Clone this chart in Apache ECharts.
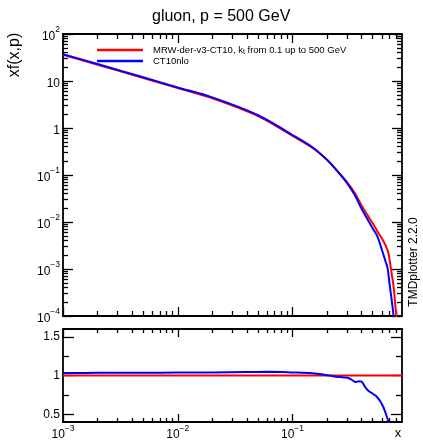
<!DOCTYPE html>
<html>
<head>
<meta charset="utf-8">
<script src="https://cdn.jsdelivr.net/npm/echarts@6/dist/echarts.min.js"></script>
<style>
html, body { margin: 0; background: #fff; }
#main { width: 423px; height: 441px; }
</style>
</head>
<body>
<div id="main"></div>
<script>
// upper panel: xf(x,p) for both sets
var xMrw = [0.001, 0.002, 0.005, 0.01, 0.02, 0.05, 0.1, 0.15, 0.2, 0.25, 0.3, 0.35, 0.4, 0.45, 0.5, 0.55, 0.6, 0.65, 0.685, 0.72, 0.76, 0.8, 0.85];
var fMrw = [36, 22.2, 11.6, 7.05, 4.3, 1.8, 0.68, 0.375, 0.21, 0.117, 0.07, 0.041, 0.0225, 0.014, 0.0094, 0.0063, 0.0045, 0.0031, 0.0022, 0.00103, 0.00042, 0.000115, 0.00004];
var xCt = [0.001, 0.002, 0.005, 0.01, 0.02, 0.05, 0.1, 0.15, 0.2, 0.25, 0.3, 0.35, 0.4, 0.45, 0.5, 0.55, 0.6, 0.65, 0.675, 0.7, 0.73, 0.76, 0.78];
var fCt = [37.2, 23, 12.0, 7.3, 4.48, 1.88, 0.71, 0.385, 0.21, 0.115, 0.066, 0.037, 0.019, 0.0115, 0.0073, 0.0049, 0.0026, 0.0014, 0.00103, 0.0005, 0.00023, 0.0001, 0.00005];

// lower panel: ratio to MRW
var xRatioCt = [0.001, 0.002, 0.005, 0.01, 0.02, 0.04, 0.06, 0.08, 0.1, 0.12, 0.15, 0.17, 0.19, 0.21, 0.24, 0.28, 0.31, 0.34, 0.36, 0.38, 0.4, 0.43, 0.46, 0.5, 0.54, 0.58, 0.62, 0.65, 0.68, 0.7];
var rCt = [1.033, 1.034, 1.036, 1.038, 1.04, 1.045, 1.047, 1.046, 1.04, 1.037, 1.03, 1.02, 1.01, 1.0, 0.985, 0.975, 0.965, 0.93, 0.915, 0.925, 0.92, 0.85, 0.8, 0.765, 0.73, 0.67, 0.59, 0.51, 0.42, 0.35];
var xRatioMrw = [0.001, 0.9];
var rMrw = [1, 1];

// ticks
var xDecades = [0.001, 0.01, 0.1];
var yDecades = [1e-4, 1e-3, 1e-2, 1e-1, 1, 10, 100];
var ratioTicks = [0.5, 1, 1.5];
var ratioMinor = [0.75, 1.25];

var nameMrw = 'MRW-der-v3-CT10, kt from 0.1 up to 500 GeV';
var nameCt = 'CT10nlo';

var FONT = 'Liberation Sans, Arial, Helvetica, sans-serif';

function minorsOf(decades, last) {
    var out = [];
    decades.forEach(function (d) {
        for (var k = 2; k <= 9; k++) {
            var v = +(d * k).toPrecision(3);
            if (v < last) out.push(v);
        }
    });
    return out;
}
var xMinor = minorsOf(xDecades, 0.9);
var yMinor = minorsOf(yDecades.slice(0, -1), 100);

function pow10(v) {
    var n = Math.round(Math.log10(v));
    if (n === 0) return '{b|1}';
    if (n === 1) return '{b|10}';
    return '{b|10}{sup|' + (n < 0 ? '\u2212' : '') + Math.abs(n) + '}';
}

var powRich = {
    b: { fontSize: 12, lineHeight: 17, verticalAlign: 'bottom', fontFamily: FONT, color: '#000' },
    sup: { fontSize: 8.5, lineHeight: 17, verticalAlign: 'top', fontFamily: FONT, color: '#000' }
};

function axis(opt) {
    var a = {
        type: opt.type,
        gridIndex: opt.grid,
        position: opt.pos,
        min: opt.min,
        max: opt.max,
        axisLine: { show: !!opt.line, onZero: false, lineStyle: { color: '#000', width: 1.8 } },
        axisTick: { show: true, inside: true, length: opt.len, customValues: opt.ticks,
                    lineStyle: { color: '#000', width: 1.3 } },
        axisLabel: { show: false },
        splitLine: { show: false },
        minorTick: { show: false },
        silent: true
    };
    if (opt.labels) {
        a.axisLabel = {
            show: true, customValues: opt.labels, margin: opt.margin,
            formatter: opt.formatter, rich: opt.rich,
            fontSize: 12, fontFamily: FONT, color: '#000'
        };
    }
    return a;
}

var xAxes = [], yAxes = [];
// upper panel (grid 0): axes 0-3
xAxes.push(axis({ type: 'log', grid: 0, pos: 'bottom', min: 0.001, max: 0.9, line: true, len: 9, ticks: xDecades }));
xAxes.push(axis({ type: 'log', grid: 0, pos: 'top', min: 0.001, max: 0.9, line: true, len: 9, ticks: xDecades }));
xAxes.push(axis({ type: 'log', grid: 0, pos: 'bottom', min: 0.001, max: 0.9, len: 5, ticks: xMinor }));
xAxes.push(axis({ type: 'log', grid: 0, pos: 'top', min: 0.001, max: 0.9, len: 5, ticks: xMinor }));
yAxes.push(axis({ type: 'log', grid: 0, pos: 'left', min: 1e-4, max: 100, line: true, len: 10, ticks: yDecades,
                  labels: yDecades, margin: 3, formatter: pow10, rich: powRich }));
yAxes.push(axis({ type: 'log', grid: 0, pos: 'right', min: 1e-4, max: 100, line: true, len: 10, ticks: yDecades }));
yAxes.push(axis({ type: 'log', grid: 0, pos: 'left', min: 1e-4, max: 100, len: 5, ticks: yMinor }));
yAxes.push(axis({ type: 'log', grid: 0, pos: 'right', min: 1e-4, max: 100, len: 5, ticks: yMinor }));
// lower panel (grid 1): axes 4-7
xAxes.push(axis({ type: 'log', grid: 1, pos: 'bottom', min: 0.001, max: 0.9, line: true, len: 8, ticks: xDecades,
                  labels: xDecades, margin: 2, formatter: pow10, rich: powRich }));
xAxes.push(axis({ type: 'log', grid: 1, pos: 'top', min: 0.001, max: 0.9, line: true, len: 8, ticks: xDecades }));
xAxes.push(axis({ type: 'log', grid: 1, pos: 'bottom', min: 0.001, max: 0.9, len: 4, ticks: xMinor }));
xAxes.push(axis({ type: 'log', grid: 1, pos: 'top', min: 0.001, max: 0.9, len: 4, ticks: xMinor }));
yAxes.push(axis({ type: 'value', grid: 1, pos: 'left', min: 0.4, max: 1.6, line: true, len: 11, ticks: ratioTicks,
                  labels: ratioTicks, margin: 3, formatter: function (v) { return String(v); } }));
yAxes.push(axis({ type: 'value', grid: 1, pos: 'right', min: 0.4, max: 1.6, line: true, len: 11, ticks: ratioTicks }));
yAxes.push(axis({ type: 'value', grid: 1, pos: 'left', min: 0.4, max: 1.6, len: 6, ticks: ratioMinor }));
yAxes.push(axis({ type: 'value', grid: 1, pos: 'right', min: 0.4, max: 1.6, len: 6, ticks: ratioMinor }));

// x axis title sits under the lower panel, at its right end
xAxes[4].name = 'x';
xAxes[4].nameLocation = 'end';
xAxes[4].nameGap = -4;
xAxes[4].nameTextStyle = { fontSize: 13, fontFamily: FONT, color: '#000', align: 'center',
                           verticalAlign: 'top', padding: [5, 0, 0, 0] };

function pairs(xs, ys) {
    return xs.map(function (x, i) { return [x, ys[i]]; });
}

function line(name, color, xi, yi, data) {
    return {
        name: name, type: 'line', xAxisIndex: xi, yAxisIndex: yi,
        data: data, showSymbol: false, clip: true, silent: true,
        smooth: 0.35,
        lineStyle: { color: color, width: 2 }, itemStyle: { color: color }
    };
}

var chart = echarts.init(document.getElementById('main'), null, { renderer: 'canvas' });
chart.setOption({
    animation: false,
    backgroundColor: '#fff',
    title: {
        text: 'gluon, p = 500 GeV', left: 147, top: 4,
        textStyle: { fontSize: 16, fontWeight: 'normal', fontFamily: FONT, color: '#000' }
    },
    legend: {
        data: [nameMrw, nameCt], orient: 'vertical', left: 97, top: 44.5,
        padding: 0, itemGap: 0, icon: 'rect', itemWidth: 46, itemHeight: 2.5,
        formatter: function (n) {
            return n === nameMrw ? 'MRW-der-v3-CT10, k{sub|t} from 0.1 up to 500 GeV' : n;
        },
        textStyle: {
            fontSize: 9.5, lineHeight: 11, fontFamily: FONT, color: '#000', padding: [0, 0, 0, 5],
            rich: { sub: { fontSize: 7, lineHeight: 11, verticalAlign: 'bottom', fontFamily: FONT, color: '#000' } }
        },
        selectedMode: false
    },
    grid: [
        { left: 63, right: 21, top: 34, height: 282 },
        { left: 63, right: 21, top: 329, height: 95 }
    ],
    xAxis: xAxes,
    yAxis: yAxes,
    graphic: [
        { type: 'text', x: 15, y: 55, rotation: Math.PI / 2,
          style: { text: 'xf(x,p)', font: '16px ' + FONT, fill: '#000', align: 'center', verticalAlign: 'middle' } },
        { type: 'text', x: 414, y: 262, rotation: Math.PI / 2,
          style: { text: 'TMDplotter 2.2.0', font: '12px ' + FONT, fill: '#000', align: 'center', verticalAlign: 'middle' } }
    ],
    series: [
        line(nameMrw, '#ff0000', 0, 0, pairs(xMrw, fMrw)),
        line(nameCt, '#0000ff', 0, 0, pairs(xCt, fCt)),
        line(nameMrw, '#ff0000', 4, 4, pairs(xRatioMrw, rMrw)),
        line(nameCt, '#0000ff', 4, 4, pairs(xRatioCt, rCt))
    ]
});
</script>
</body>
</html>
